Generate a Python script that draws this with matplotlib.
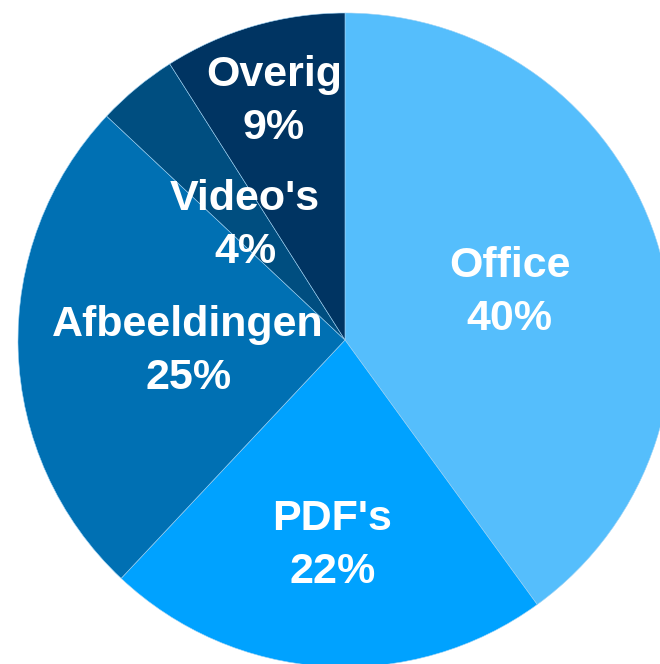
import numpy as np
import matplotlib.pyplot as plt

labels = ['Office', "PDF's", 'Afbeeldingen', "Video's", 'Overig']
values = [40, 22, 25, 4, 9]
colors = ['#55BEFC', '#00A2FF', '#0070B3', '#004E80', '#003462']
# distance of each label from the centre (fraction of radius)
label_r = [0.53, 0.61, 0.48, 0.48, 0.78]

fig = plt.figure(figsize=(6.6, 6.64), dpi=100)
ax = fig.add_axes([0, 0, 1, 1])

wedges, _ = ax.pie(values, colors=colors, startangle=90, counterclock=False,
                   radius=1.0, wedgeprops=dict(linewidth=0.4, edgecolor='#9fd3f5'))

# put labels at the middle angle of each wedge
for w, lab, v, r in zip(wedges, labels, values, label_r):
    ang = np.deg2rad((w.theta1 + w.theta2) / 2)
    ax.text(r * np.cos(ang), r * np.sin(ang) - 0.02, f'{lab}\n{v}%',
            ha='center', va='center', color='white', fontsize=31,
            fontweight='bold', family='Liberation Sans', linespacing=1.42)

ax.set_xlim(-345 / 327, 315 / 327)
ax.set_ylim(-324 / 327, 340 / 327)
ax.set_aspect('auto')
ax.axis('off')

fig.savefig('out.png', dpi=100)
